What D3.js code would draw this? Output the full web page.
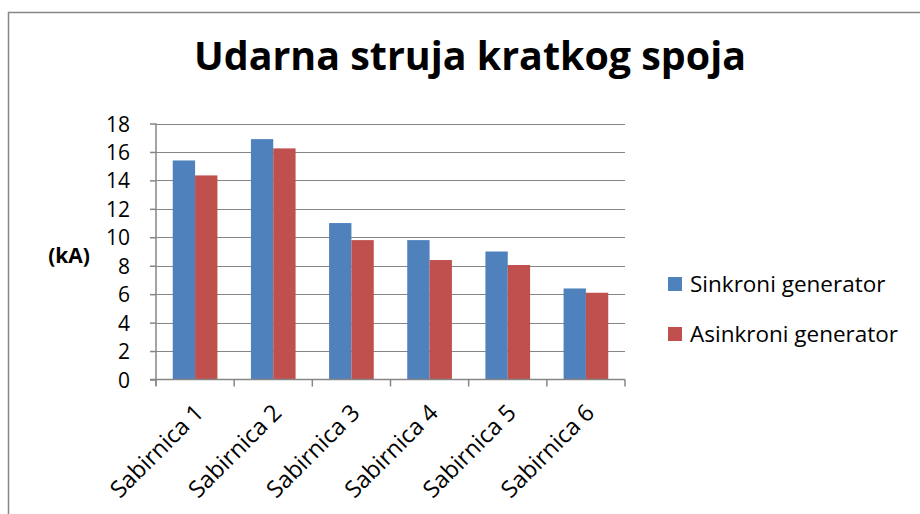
<!DOCTYPE html>
<html><head><meta charset="utf-8">
<script src="https://cdn.jsdelivr.net/npm/d3@7"></script>
<style>body{margin:0;background:#fff}svg{display:block}</style>
</head><body>
<script>
const categories = ["Sabirnica 1","Sabirnica 2","Sabirnica 3","Sabirnica 4","Sabirnica 5","Sabirnica 6"];
const seriesNames = ["Sinkroni generator","Asinkroni generator"];
const sinkroni = [15.4, 16.9, 11.0, 9.8, 9.0, 6.4];
const asinkroni = [14.35, 16.25, 9.8, 8.4, 8.05, 6.1];
const yTicks = [0,2,4,6,8,10,12,14,16,18];
const colors = ["#4F81BD","#C0504D"];
const title = "Udarna struja kratkog spoja";
const yLabel = "(kA)";

const W=920,H=514;
const font = "'Open Sans', 'Liberation Sans', sans-serif";
const svg = d3.select("body").append("svg").attr("width",W).attr("height",H);
svg.append("rect").attr("width",W).attr("height",H).attr("fill","#fff");
svg.append("path").attr("d","M8.5,"+H+"V12.5H"+W).attr("fill","none").attr("stroke","#868686").attr("stroke-width",1.5);

const m={l:156,r:625,t:123.5,b:379.5};
const x = d3.scaleBand().domain(categories).range([m.l,m.r]);
const y = d3.scaleLinear().domain([0,18]).range([m.b,m.t]);
const gap = 1.5;
const bw = x.bandwidth()/(2+gap);

svg.append("g").selectAll("line").data(yTicks.filter(d=>d>0)).join("line")
  .attr("x1",m.l).attr("x2",m.r).attr("y1",d=>Math.round(y(d))+0.5).attr("y2",d=>Math.round(y(d))+0.5)
  .attr("stroke","#868686").attr("stroke-width",1.2);

const data = categories.map((c,i)=>({c, v:[sinkroni[i],asinkroni[i]]}));
const g = svg.append("g");
data.forEach(d=>{
  d.v.forEach((v,j)=>{
    g.append("rect").attr("x",x(d.c)+x.bandwidth()/2-bw+j*bw).attr("width",bw)
      .attr("y",y(v)).attr("height",y(0)-y(v)).attr("fill",colors[j]);
  });
});

const yAxis = d3.axisLeft(y).tickValues(yTicks).tickSize(6).tickPadding(20).tickFormat(d3.format("d"));
const ya = svg.append("g").attr("transform","translate("+m.l+",0)").call(yAxis);
ya.select(".domain").attr("d","M0,"+(m.t)+"V"+(m.b+6)).attr("stroke","#868686").attr("stroke-width",1.5);
ya.selectAll(".tick line").attr("stroke","#868686").attr("stroke-width",1.5);
ya.selectAll(".tick text").attr("font-family",font).attr("font-size",21).attr("fill","#000").attr("dy","0.36em");

const xa = svg.append("g").attr("transform","translate(0,"+m.b+")");
xa.append("line").attr("x1",m.l-6).attr("x2",m.r).attr("y1",0).attr("y2",0).attr("stroke","#868686").attr("stroke-width",1.5);
const bounds = categories.map(c=>x(c)).concat([m.r]);
xa.selectAll("line.t").data(bounds).join("line").attr("class","t")
  .attr("x1",d=>d).attr("x2",d=>d).attr("y1",0).attr("y2",7).attr("stroke","#868686").attr("stroke-width",1.5);
xa.selectAll("text").data(categories).join("text")
  .attr("transform",d=>"translate("+(x(d)+x.bandwidth()/2-2)+",23) rotate(-45)")
  .attr("text-anchor","end").attr("dy","0.71em")
  .attr("font-family",font).attr("font-size",23.5).attr("fill","#000").text(d=>d);

svg.append("text").attr("x",69).attr("y",256).attr("dy","0.35em").attr("text-anchor","middle")
  .attr("font-family",font).attr("font-weight","bold").attr("font-size",21).text(yLabel);

svg.append("text").attr("x",470).attr("y",70).attr("text-anchor","middle")
  .attr("font-family",font).attr("font-weight","bold").attr("font-size",39.4).attr("fill","#000").text(title);

const lg = svg.append("g");
seriesNames.forEach((s,i)=>{
  const yy = 284 + i*50;
  lg.append("rect").attr("x",668).attr("y",yy-7).attr("width",14).attr("height",14).attr("fill",colors[i]);
  lg.append("text").attr("x",690).attr("y",yy).attr("dy","0.35em").attr("font-family",font).attr("font-size",22.5).attr("fill","#000").text(s);
});
</script>
</body></html>
